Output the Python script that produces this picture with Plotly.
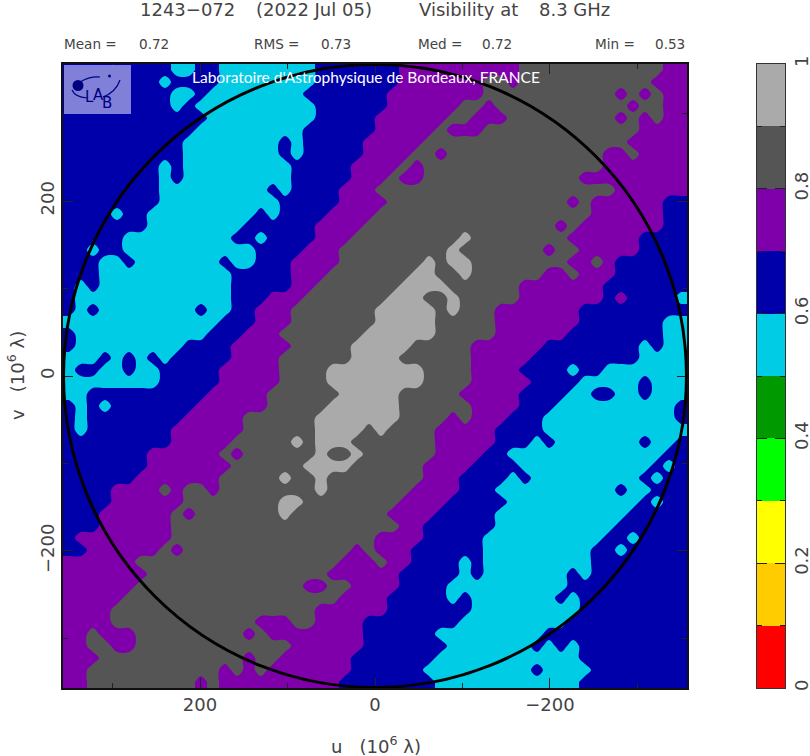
import numpy as np
import plotly.graph_objects as go

# Visibility band per grid cell, top row first, left (u>0) to right (u<0).
# A digit d means the band 0.d - 0.(d+1).
VIS_ROWS = [
"66666666655665555555566666 66 7777777777 888888888888 77",
"66666666566665555555566666 66 7777777 88 7 88888888888 777",
"66666666655655555555666666 6 77777777 88888888888 7 8 7 8 77",
"66666666656555555555566666 6 777777 88 7 88888888888 7 88 77",
"66666666666655555555566666 777777 88 777 888888888 7 8 7 8 77",
"66666666666555555555666666 77777 8 777 8888888888888 7777",
"66666666665555555565666667 7777 88888888888888888 77777",
"66666666665555555565666667 777 88 7 8888888888888 77 8 7777",
"66666666565555555556666677 77 8 7 888888888888888 7777777",
"66666666565555555556666677 7 8 77 8888888888888 777777777",
"66666666555555555656666777 88888888888888888888 777777",
"66666666555555555566666777 7 888888888888888 7 8 777777 66",
"66665665555555556566667777 888888888888888888 777777 66",
"66666665555555566666677778 888888888888888 7 8 7777777 66",
"66666555555555665666677788 8888888 9 88888888 777777 6666",
"66566555555555556666777888 888888 9 8888888 7 88 77777 6666",
"66655655555556556667777888 8888 9 8 99 88888888 77 8 7 666666",
"66655555555555666667778888 888 99 88 9 888888 77 8 777 666666",
"65655555555555666667788888 88 9999 888888 7777777 6666666",
"65555555555555666777888888 8 999 88 9 88888 7777777 6 7 6666 5",
"656 55555555 6 55 66 777 8888888 99999 8 9 888 7777777 666666666",
"55555555555556667778888888 99999 88888 7777777 6666666 55",
"65555555555566677788888889 99999 88888 777777 66666666 55",
"65555555556666777778888899 999 88888 777777 66666666 5 6 55",
"55565656566666777788888899 99 888888 77777 666666666 5555",
"56655655666667777788889999 9999 8888 7777 6666 5 66 5555555",
"55555555666667777788889999 9999 8888 77777 6666 55555 6 555",
"55666666666677777888888999 99 88888 77777 6666 55 66 55 6 555",
"65656666666777777888889999 99 888888 7777 666 5555555555 6",
"65666666667777788888899999 99 8888 7 8 777 666 55555555555 6",
"65666666677777788888899998 9 8888 77777 6666 555555555555",
"66666666677777888889899988 88888 77777 666 5 6 5555555 6 55 6",
"66666667777778788888898898 88888 7777 66 5555555555555 66",
"66666667777777888888999988 8888 7777 6666 55555555555 6 5 6",
"66666677777778888898898888 8888 777 6666 5 6 555555555 6 5 66",
"66667777878878888888898888 888 7777 666 5555555555 6 55 666",
"66667777778888888899888888 88 7777 66666 55555555555 6 5 66",
"66677777787888888898888888 8 7777 66666 55555555555 66666",
"66677777788888888888888888 88 77 666666 5555555555 666666",
"67777777788888888888888888 7777 66666 5555555555 66 5 6666",
"66777777878888888888888878 777 666666 555555555 66 5 66666",
"77777788888888888888888777 8 77 6666 5 6 555555555 66666666",
"77777778888888888888887777 77 66666 5 6 5555555 6 5 66666666",
"77777788888888888888778877 77 6666 5555555555 6666666666",
"77777888888888888888888777 7 66666 5 6 5555555 6 5 666666666",
"77778888888888888888877777 7 6666666 555555555 666666666",
"77778888888888887778877776 6666666 555555555 6666666666",
"77877788888888878777777776 66666 555555555 666666666666",
"77887788888888888887777776 666666 5555555 6 5 6 5 666666666",
"77788888888888878877777766 66666 555555555555 666666666",
"77888888888887878777777766 6666 555555555 6 5555 66666666",
"77888888888787777777777666 66666 555555555555 666666666",
]

AXIS_LIMIT = 356.6
BASELINE_RADIUS = 356.0
BAND_COLORS = ["#FF0000", "#FFCC00", "#FFFF00", "#00FF00", "#009900",
               "#00CCE6", "#0000AA", "#7F00AA", "#555555", "#AAAAAA"]
BAR_VALUES = [0.05, 0.15, 0.25, 0.35, 0.45, 0.55, 0.65, 0.75, 0.85, 0.95]
BAR_TICKS = [0, 0.2, 0.4, 0.6, 0.8, 1]
BAR_LABELS = ["0", "0.2", "0.4", "0.6", "0.8", "1"]

TITLE_PARTS = [("1243\u2212072", 139), ("(2022 Jul 05)", 255), ("Visibility at", 418), ("8.3 GHz", 538)]
STAT_PARTS = [("Mean =", 63), ("0.72", 138), ("RMS =", 253), ("0.73", 320),
              ("Med =", 417), ("0.72", 481), ("Min =", 594), ("0.53", 654)]

FONT = "DejaVu Sans ExtraLight, DejaVu Sans"
TXT = "#444444"
W, H = 810, 756
ML, MR, MT, MB = 63, 25, 64, 68
PW, PH = W - ML - MR, H - MT - MB


def px(x):
    return (x - ML) / PW


def py(y):
    return 1 - (y - MT) / PH


rows = [r.replace(" ", "") for r in VIS_ROWS]
for i, r in enumerate(rows):
    assert len(r) == 52, (i, len(r))
z = np.array([[int(c) / 10 + 0.05 for c in r] for r in rows])
n = z.shape[0]
cell = 2 * AXIS_LIMIT / n
centres = AXIS_LIMIT - cell * (np.arange(n) + 0.5)

scale = []
for i, c in enumerate(BAND_COLORS):
    scale += [[i / 10, c], [(i + 1) / 10, c]]

fig = go.Figure()
fig.add_trace(go.Heatmap(x=centres, y=centres, z=z, colorscale=scale, zmin=0, zmax=1,
                         showscale=False, hoverinfo="skip"))
fig.add_trace(go.Contour(x=centres, y=centres, z=z, colorscale=scale, zmin=0, zmax=1,
                         autocontour=False, showscale=False, line_width=0, line_smoothing=1.0,
                         contours=dict(start=0, end=1, size=0.1, coloring="fill", showlines=False),
                         hoverinfo="skip"))
fig.add_trace(go.Heatmap(x=[0], y=BAR_VALUES, z=[[v] for v in BAR_VALUES], colorscale=scale,
                         zmin=0, zmax=1, showscale=False, xaxis="x2", yaxis="y2", hoverinfo="skip"))

axis_common = dict(showgrid=False, zeroline=False, showline=True, linecolor="#111111", linewidth=1.5,
                   ticks="inside", ticklen=10, tickcolor="#222222", tickwidth=1, mirror="ticks",
                   automargin=False,
                   tickfont=dict(family=FONT, size=18, color=TXT),
                   minor=dict(ticks="inside", ticklen=5, dtick=100, tickcolor="#222222", tickwidth=1))

fig.update_layout(
    width=W, height=H, autosize=False, margin=dict(l=ML, r=MR, t=MT, b=MB, autoexpand=False),
    paper_bgcolor="white", plot_bgcolor="white", showlegend=False,
    xaxis=dict(domain=[0, 624 / PW], range=[AXIS_LIMIT, -AXIS_LIMIT], dtick=200, tick0=0,
               ticklabelstandoff=0, **axis_common),
    yaxis=dict(domain=[0, 1], range=[-AXIS_LIMIT, AXIS_LIMIT], dtick=200, tick0=0, tickangle=-90,
               ticklabelstandoff=0, **axis_common),
    xaxis2=dict(domain=[694 / PW, 1], anchor="y2", range=[-0.5, 0.5], showticklabels=False, ticks="",
                showgrid=False, zeroline=False, showline=True, linecolor="#333333", linewidth=1, mirror=True),
    yaxis2=dict(domain=[0, 1], anchor="x2", side="right", range=[0, 1], tickvals=BAR_TICKS, ticktext=BAR_LABELS,
                tickangle=-90, showgrid=False, zeroline=False, showline=True, linecolor="#333333", linewidth=1,
                mirror="ticks", ticks="inside", ticklen=10, tickcolor="#222222", ticklabelstandoff=0,
                tickfont=dict(family=FONT, size=18, color=TXT), automargin=False,
                minor=dict(ticks="inside", ticklen=5, dtick=0.1, tickcolor="#222222")),
)

LOGO_BLUE = "#000080"
shapes = [
    dict(type="circle", xref="x", yref="y", x0=-BASELINE_RADIUS, x1=BASELINE_RADIUS,
         y0=-BASELINE_RADIUS, y1=BASELINE_RADIUS, line=dict(color="black", width=3)),
    dict(type="rect", xref="paper", yref="paper", x0=px(64), x1=px(131), y0=py(114), y1=py(65),
         fillcolor="#8080D8", line_width=0),
    dict(type="circle", xref="paper", yref="paper", x0=px(72.5), x1=px(83.5), y0=py(91), y1=py(80),
         fillcolor=LOGO_BLUE, line_width=0),
    dict(type="circle", xref="paper", yref="paper", x0=px(108), x1=px(111), y0=py(77.5), y1=py(74.5),
         fillcolor=LOGO_BLUE, line_width=0),
]
for p in [((80, 82), (90, 76), (100, 77)), ((72, 90), (75, 97), (87, 98)), ((120, 80), (116, 92), (103, 97))]:
    (a, b), (c, d), (e, f) = p
    shapes.append(dict(type="path", xref="paper", yref="paper",
                       path=f"M {px(a)} {py(b)} Q {px(c)} {py(d)} {px(e)} {py(f)}",
                       line=dict(color=LOGO_BLUE, width=1.2)))
fig.update_layout(shapes=shapes)

ann = []


def text(s, x, y, size, color=TXT, xanchor="left", angle=0, family=FONT):
    ann.append(dict(text=s, x=px(x), y=py(y), xref="paper", yref="paper", showarrow=False,
                    xanchor=xanchor, yanchor="middle", textangle=angle, borderpad=0,
                    font=dict(family=family, size=size, color=color)))


for s, x in TITLE_PARTS:
    text(s, x, 9, 18)
for s, x in STAT_PARTS:
    text(s, x, 44, 13.6)
text("Laboratoire d'Astrophysique de Bordeaux, FRANCE", 191, 77, 15.5, color="white", family="Lato")
text("L", 89, 97, 15, color=LOGO_BLUE, xanchor="center", family="DejaVu Sans")
text("A", 98, 95, 15, color=LOGO_BLUE, xanchor="center", family="DejaVu Sans")
text("B", 107, 103, 15, color=LOGO_BLUE, xanchor="center", family="DejaVu Sans")
text("u\u00a0\u00a0\u00a0(10<sup>6</sup>\u00a0\u03bb)", 376, 745, 18, xanchor="center")
text("v\u00a0\u00a0\u00a0(10<sup>6</sup>\u00a0\u03bb)", 16, 376, 18, xanchor="center", angle=-90)
fig.update_layout(annotations=ann)

fig.write_html("out.html", config=dict(displayModeBar=False),
               post_script="document.body.style.margin='0';document.body.style.overflow='hidden';")
